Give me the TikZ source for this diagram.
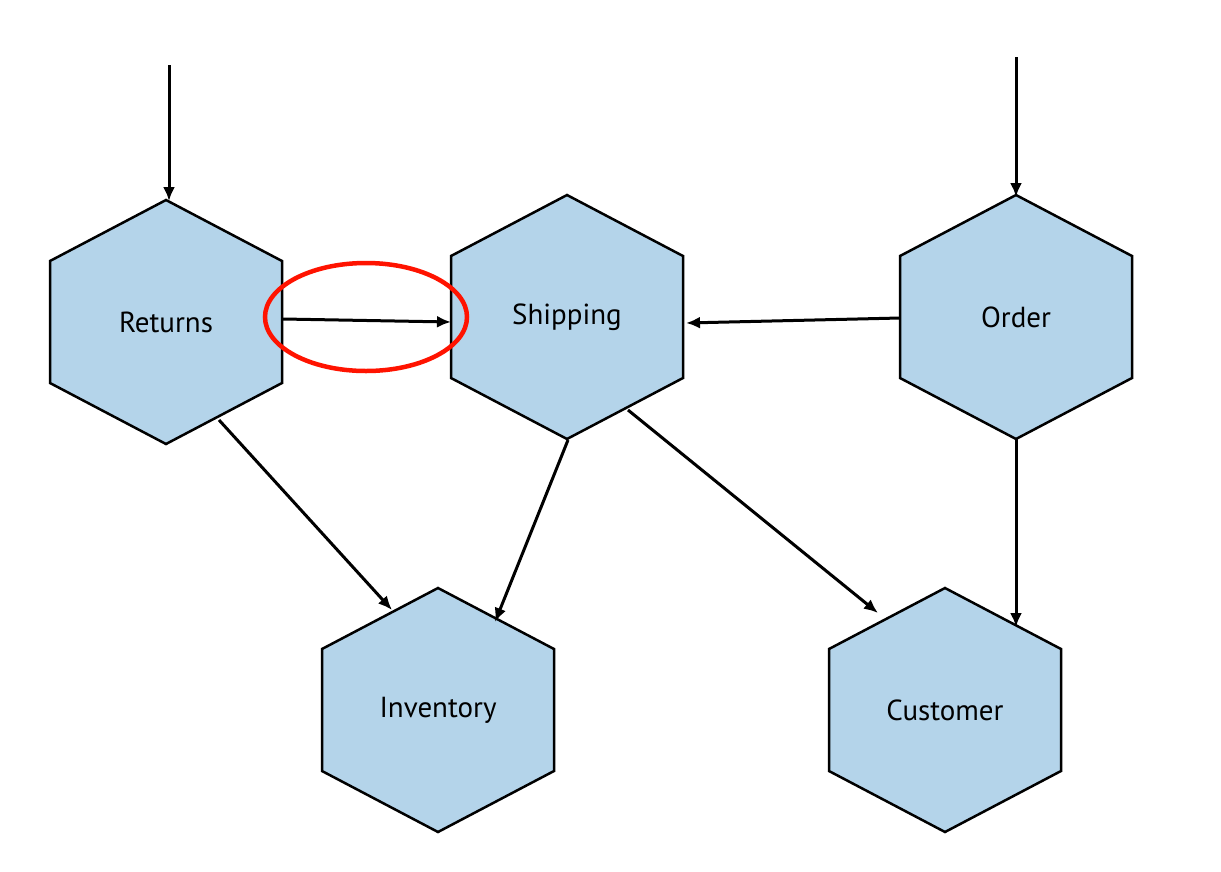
\documentclass[tikz,border=0pt]{standalone}
\usepackage{fontspec}
\setmainfont{PT Sans}
\usetikzlibrary{arrows.meta}

\tikzset{
  hexa/.style={fill=hexblue,draw=black,line width=2.5pt,line join=miter},
  lbl/.style={font=\fontsize{29}{32}\selectfont,inner sep=0pt},
  conn/.style={line width=3pt,-{Latex[length=14pt,width=12pt]}}
}
\definecolor{hexblue}{RGB}{180,212,234}
\newcommand{\hexagon}[4]{% name, x, y, label
  \fill[hexa] (#2,#3-122) -- (#2+116,#3-61) -- (#2+116,#3+61) -- (#2,#3+122)
     -- (#2-116,#3+61) -- (#2-116,#3-61) -- cycle;
  \node[lbl] (#1) at (#2,#3) {#4};
}

\begin{document}
\begin{tikzpicture}[x=1pt,y=-1pt]
  \useasboundingbox (0,0) rectangle (1221,871);
  \hexagon{returns}{166}{322}{Returns}
  \hexagon{shipping}{567}{317}{Shipping}
  \hexagon{order}{1016}{317}{Order}
  \hexagon{inventory}{438}{710}{Inventory}
  \hexagon{customer}{945}{710}{Customer}
  % end points on the borders
  \coordinate (retin) at (169,65);
  \coordinate (rettop) at (169,201);
  \coordinate (ordin) at (1016,57);
  \coordinate (ordtop) at (1016,197);
  \coordinate (retright) at (283,319);
  \coordinate (shipleft) at (451,322);
  \coordinate (ordleft) at (900,318);
  \coordinate (shipright) at (686,323);
  \coordinate (retlow) at (219,420);
  \coordinate (invtop) at (392,610);
  \coordinate (shipbot) at (568,440);
  \coordinate (invright) at (495,622);
  \coordinate (shiplow) at (628,410);
  \coordinate (custleft) at (878,613);
  \coordinate (ordbot) at (1016,439);
  \coordinate (custtop) at (1016,627);
  \draw[conn] (retin) -- (rettop);
  \draw[conn] (ordin) -- (ordtop);
  \draw[conn] (retright) -- (shipleft);
  \draw[conn] (ordleft) -- (shipright);
  \draw[conn] (retlow) -- (invtop);
  \draw[conn] (shipbot) -- (invright);
  \draw[conn] (shiplow) -- (custleft);
  \draw[conn] (ordbot) -- (custtop);
  % highlight
  \draw[red!85!orange,line width=4.5pt] (366,317) ellipse [x radius=101,y radius=54];
\end{tikzpicture}
\end{document}
